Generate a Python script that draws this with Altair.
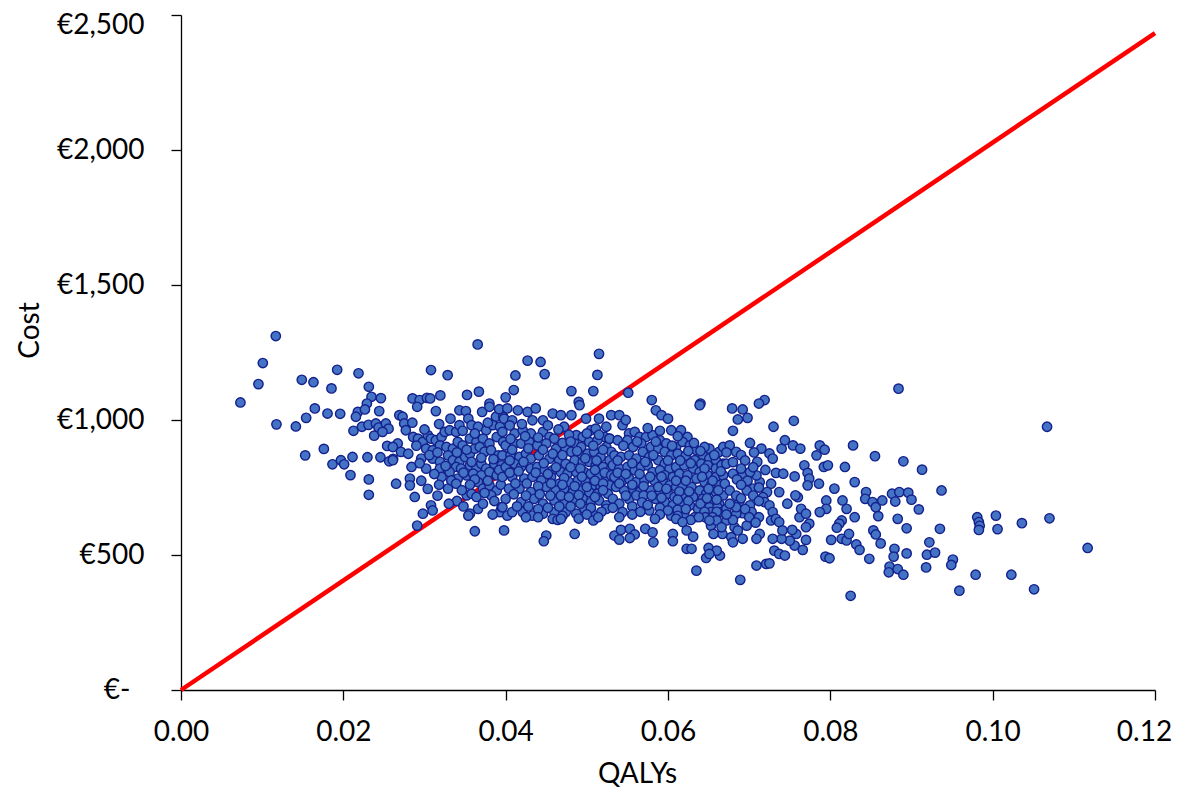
import altair as alt
import pandas as pd

# ---- data (QALYs, Cost) ----
left_group = [
    (0.01168, 1311), (0.01008, 1211), (0.00954, 1133), (0.00732, 1065), (0.01176, 984),
    (0.01415, 976), (0.01542, 1008), (0.01649, 1043), (0.01488, 1149), (0.01632, 1140),
    (0.01924, 1186), (0.01854, 1117), (0.02187, 1173), (0.02314, 1123), (0.02347, 1086),
    (0.02463, 1081), (0.02290, 1061), (0.01805, 1024), (0.01961, 1023), (0.02179, 1030),
    (0.02155, 1012), (0.02266, 1039), (0.02442, 1033), (0.02125, 960), (0.02229, 975),
    (0.02310, 982), (0.02401, 987), (0.02434, 972), (0.02524, 987), (0.02557, 968),
    (0.02380, 942), (0.02482, 956), (0.01530, 869), (0.01760, 893), (0.01866, 836),
    (0.01970, 851), (0.02010, 836), (0.02113, 863), (0.02088, 796), (0.02297, 862),
    (0.02457, 862), (0.02565, 847), (0.02613, 856), (0.02540, 904), (0.02670, 913),
    (0.02314, 780), (0.02314, 723),
]

upper_group = [
    (0.03655, 1280), (0.0308, 1185), (0.03285, 1166), (0.0427, 1220), (0.0443, 1215),
    (0.0412, 1165), (0.0448, 1170), (0.03524, 1093), (0.0367, 1105), (0.03195, 1091),
    (0.0410, 1111), (0.0400, 1084), (0.02853, 1080), (0.0294, 1074), (0.0303, 1082),
    (0.0307, 1080), (0.0380, 1061), (0.0515, 1245), (0.0513, 1167), (0.0481, 1107),
    (0.0508, 1107), (0.0490, 1067), (0.0551, 1101), (0.0580, 1074), (0.0640, 1061),
]

core_a = [
    (0.0269, 1018), (0.0273, 1012), (0.0291, 1049), (0.0314, 1033), (0.0343, 1036),
    (0.0351, 1033), (0.0371, 1030), (0.0380, 1049), (0.0388, 1012), (0.0397, 1012),
    (0.0275, 987), (0.0277, 962), (0.0286, 937), (0.0292, 931), (0.0298, 919),
    (0.0304, 944), (0.0308, 931), (0.0314, 925), (0.0321, 937), (0.0325, 956),
    (0.0331, 962), (0.0339, 956), (0.0343, 981), (0.0354, 1005), (0.0358, 981),
    (0.0366, 975), (0.0376, 962), (0.0384, 981), (0.0393, 975), (0.0261, 900),
    (0.0271, 882), (0.0280, 875), (0.0296, 857), (0.0302, 894), (0.0310, 888),
    (0.0319, 906), (0.0327, 900), (0.0335, 894), (0.0341, 919), (0.0347, 906),
    (0.0356, 931), (0.0364, 919), (0.0372, 931), (0.0380, 913), (0.0389, 937),
    (0.0397, 919), (0.0310, 857), (0.0319, 845), (0.0329, 869), (0.0335, 851),
    (0.0343, 845), (0.0350, 863), (0.0356, 875), (0.0362, 894), (0.0368, 900),
    (0.0374, 882), (0.0382, 888), (0.0391, 869), (0.0397, 869), (0.0261, 851),
    (0.0284, 826), (0.0302, 820), (0.0319, 820), (0.0329, 814), (0.0339, 826),
    (0.0345, 820), (0.0356, 832), (0.0364, 820), (0.0370, 838), (0.0376, 820),
    (0.0386, 838), (0.0395, 832), (0.0265, 764), (0.0282, 783), (0.0282, 758),
    (0.0321, 789), (0.0331, 807), (0.0341, 783), (0.0352, 795), (0.0360, 801),
    (0.0370, 795), (0.0380, 807), (0.0389, 795), (0.0288, 715), (0.0329, 746),
    (0.0333, 776), (0.0339, 764), (0.0352, 721), (0.0358, 727), (0.0366, 770),
    (0.0372, 746), (0.0380, 758), (0.0389, 739), (0.0382, 721), (0.0364, 715),
    (0.0308, 684), (0.0310, 665), (0.0298, 653), (0.0356, 653), (0.0366, 671),
    (0.0393, 659), (0.0395, 677), (0.0354, 646), (0.0362, 588), (0.0398, 591),
    (0.0402, 646), (0.0291, 609),
]

core_a_fill = [
    (0.0285, 990), (0.0300, 965), (0.0318, 985), (0.0332, 1005), (0.0347, 960),
    (0.0362, 950), (0.0378, 990), (0.0392, 1040), (0.0290, 905), (0.0306, 870),
    (0.0316, 880), (0.0340, 880), (0.0352, 890), (0.0370, 860), (0.0385, 855),
    (0.0358, 845), (0.0294, 840), (0.0312, 800), (0.0326, 830), (0.0348, 805),
    (0.0362, 780), (0.0378, 775), (0.0392, 815), (0.0296, 775), (0.0304, 745),
    (0.0318, 760), (0.0346, 740), (0.0356, 760), (0.0374, 730), (0.0386, 700),
    (0.0394, 760), (0.0316, 720), (0.0340, 700), (0.0348, 680), (0.0372, 690),
    (0.0384, 650), (0.0330, 690),
]

core_b = [
    (0.0402, 1043), (0.0415, 1036), (0.0427, 1030), (0.0437, 1043), (0.0458, 1024),
    (0.0468, 1018), (0.0481, 1018), (0.0491, 1055), (0.0499, 1005), (0.0515, 1005),
    (0.0524, 975), (0.0530, 1018), (0.0398, 1005), (0.0408, 999), (0.0433, 999),
    (0.0446, 999), (0.0472, 975), (0.0487, 944), (0.0495, 937), (0.0505, 962),
    (0.0511, 968), (0.0522, 937), (0.0528, 931), (0.0396, 956), (0.0411, 950),
    (0.0421, 962), (0.0431, 950), (0.0446, 956), (0.0454, 937), (0.0460, 931),
    (0.0485, 913), (0.0493, 900), (0.0503, 919), (0.0513, 925), (0.0524, 900),
    (0.0530, 882), (0.0400, 906), (0.0411, 913), (0.0419, 913), (0.0429, 919),
    (0.0439, 906), (0.0450, 913), (0.0462, 894), (0.0474, 894), (0.0481, 882),
    (0.0491, 869), (0.0501, 875), (0.0509, 882), (0.0517, 863), (0.0528, 851),
    (0.0396, 869), (0.0406, 869), (0.0417, 863), (0.0425, 875), (0.0431, 857),
    (0.0441, 869), (0.0454, 857), (0.0466, 851), (0.0474, 838), (0.0485, 851),
    (0.0495, 845), (0.0503, 845), (0.0511, 832), (0.0520, 826), (0.0530, 820),
    (0.0400, 826), (0.0411, 838), (0.0419, 826), (0.0431, 820), (0.0439, 826),
    (0.0448, 814), (0.0458, 814), (0.0468, 807), (0.0476, 801), (0.0487, 807),
    (0.0497, 807), (0.0505, 801), (0.0515, 795), (0.0524, 783), (0.0396, 789),
    (0.0408, 789), (0.0423, 783), (0.0433, 789), (0.0444, 776), (0.0456, 789),
    (0.0466, 764), (0.0478, 770), (0.0489, 776), (0.0499, 770), (0.0507, 758),
    (0.0517, 752), (0.0528, 758), (0.0404, 746), (0.0417, 746), (0.0431, 733),
    (0.0450, 752), (0.0462, 739), (0.0472, 746), (0.0483, 733), (0.0493, 739),
    (0.0503, 733), (0.0513, 727), (0.0526, 727), (0.0400, 708), (0.0419, 696),
    (0.0435, 708), (0.0446, 690), (0.0460, 702), (0.0472, 690), (0.0485, 702),
    (0.0495, 708), (0.0505, 696), (0.0515, 702), (0.0524, 684), (0.0396, 677),
    (0.0408, 659), (0.0421, 659), (0.0433, 646), (0.0446, 653), (0.0460, 659),
    (0.0474, 659), (0.0487, 653), (0.0497, 671), (0.0511, 646), (0.0524, 671),
    (0.0458, 634), (0.0464, 630), (0.0450, 572), (0.0447, 551),
]

core_b_fill = [
    (0.0405, 980), (0.0420, 985), (0.0452, 980), (0.0465, 965), (0.0478, 945),
    (0.0500, 950), (0.0515, 945), (0.0406, 930), (0.0424, 940), (0.0440, 935),
    (0.0470, 915), (0.0480, 920), (0.0508, 905), (0.0520, 890), (0.0408, 890),
    (0.0428, 895), (0.0446, 890), (0.0458, 875), (0.0470, 870), (0.0488, 885),
    (0.0498, 858), (0.0512, 850), (0.0405, 850), (0.0422, 845), (0.0447, 840),
    (0.0462, 825), (0.0480, 825), (0.0492, 820), (0.0510, 815), (0.0522, 805),
    (0.0405, 805), (0.0416, 810), (0.0437, 805), (0.0452, 800), (0.0472, 785),
    (0.0494, 790), (0.0510, 775), (0.0530, 795), (0.0412, 765), (0.0426, 765),
    (0.0440, 755), (0.0456, 765), (0.0470, 760), (0.0485, 755), (0.0500, 752),
    (0.0520, 765), (0.0410, 725), (0.0425, 720), (0.0442, 725), (0.0455, 720),
    (0.0468, 720), (0.0478, 715), (0.0490, 722), (0.0510, 715), (0.0520, 740),
    (0.0414, 680), (0.0428, 680), (0.0440, 670), (0.0452, 675), (0.0466, 680),
    (0.0480, 680), (0.0492, 690), (0.0505, 675), (0.0518, 660), (0.0425, 640),
    (0.0440, 640), (0.0470, 645), (0.0490, 635), (0.0500, 650),
]

core_c = [
    (0.0540, 1018), (0.0544, 981), (0.0585, 1036), (0.0592, 1018), (0.0600, 1005),
    (0.0604, 962), (0.0616, 962), (0.0624, 937), (0.0639, 1055), (0.0651, 894),
    (0.0663, 882), (0.0552, 950), (0.0559, 956), (0.0565, 937), (0.0573, 937),
    (0.0581, 944), (0.0590, 925), (0.0598, 913), (0.0610, 900), (0.0618, 919),
    (0.0627, 906), (0.0635, 888), (0.0643, 869), (0.0651, 857), (0.0659, 851),
    (0.0668, 838), (0.0528, 931), (0.0538, 925), (0.0550, 925), (0.0557, 900),
    (0.0567, 913), (0.0579, 900), (0.0588, 894), (0.0596, 882), (0.0604, 869),
    (0.0612, 875), (0.0622, 869), (0.0633, 851), (0.0641, 838), (0.0649, 832),
    (0.0659, 820), (0.0666, 832), (0.0534, 869), (0.0542, 863), (0.0552, 869),
    (0.0561, 857), (0.0569, 882), (0.0577, 863), (0.0588, 851), (0.0596, 838),
    (0.0602, 820), (0.0610, 826), (0.0620, 832), (0.0631, 820), (0.0639, 807),
    (0.0649, 795), (0.0659, 789), (0.0668, 795), (0.0532, 832), (0.0540, 820),
    (0.0550, 826), (0.0559, 814), (0.0567, 826), (0.0575, 832), (0.0581, 807),
    (0.0590, 814), (0.0596, 795), (0.0606, 789), (0.0614, 801), (0.0624, 795),
    (0.0635, 783), (0.0645, 770), (0.0653, 758), (0.0663, 758), (0.0534, 789),
    (0.0544, 776), (0.0552, 783), (0.0561, 770), (0.0571, 776), (0.0583, 776),
    (0.0594, 770), (0.0602, 758), (0.0610, 752), (0.0618, 758), (0.0629, 752),
    (0.0639, 739), (0.0647, 727), (0.0659, 733), (0.0668, 721), (0.0536, 752),
    (0.0546, 739), (0.0557, 746), (0.0565, 733), (0.0579, 739), (0.0590, 733),
    (0.0600, 727), (0.0608, 715), (0.0620, 721), (0.0631, 715), (0.0643, 708),
    (0.0653, 696), (0.0663, 690), (0.0532, 708), (0.0540, 690), (0.0552, 708),
    (0.0561, 721), (0.0585, 708), (0.0596, 696), (0.0606, 684), (0.0616, 690),
    (0.0627, 684), (0.0637, 671), (0.0651, 677), (0.0661, 677), (0.0544, 659),
    (0.0577, 665), (0.0604, 646), (0.0620, 653), (0.0633, 640), (0.0653, 659),
    (0.0666, 659),
]

core_c_fill = [
    (0.0548, 1000), (0.0575, 970), (0.0590, 960), (0.0612, 940), (0.0632, 915),
    (0.0645, 900), (0.0545, 905), (0.0562, 920), (0.0585, 920), (0.0605, 905),
    (0.0625, 885), (0.0640, 885), (0.0657, 870), (0.0538, 850), (0.0556, 840),
    (0.0572, 845), (0.0582, 870), (0.0600, 850), (0.0615, 850), (0.0628, 840),
    (0.0645, 820), (0.0665, 810), (0.0538, 805), (0.0548, 800), (0.0565, 800),
    (0.0578, 790), (0.0592, 790), (0.0610, 775), (0.0622, 775), (0.0642, 790),
    (0.0655, 775), (0.0540, 765), (0.0556, 760), (0.0570, 755), (0.0588, 752),
    (0.0598, 745), (0.0614, 735), (0.0626, 735), (0.0650, 745), (0.0662, 740),
    (0.0548, 720), (0.0570, 720), (0.0580, 720), (0.0592, 712), (0.0612, 705),
    (0.0625, 700), (0.0640, 690), (0.0648, 710), (0.0660, 705), (0.0532, 675),
    (0.0556, 680), (0.0568, 695), (0.0575, 685), (0.0590, 675), (0.0600, 665),
    (0.0612, 668), (0.0622, 670), (0.0645, 660), (0.0660, 660), (0.0540, 640),
    (0.0556, 650), (0.0566, 660), (0.0590, 650), (0.0612, 645), (0.0628, 630),
    (0.0646, 640), (0.0655, 640),
]

lower_group = [
    (0.0485, 578), (0.0534, 572), (0.0542, 593), (0.0540, 557), (0.0553, 597),
    (0.0559, 576), (0.0553, 563), (0.0572, 597), (0.0581, 584), (0.0582, 547),
    (0.0606, 578), (0.0606, 551), (0.0623, 523), (0.0629, 523), (0.0647, 489),
    (0.0650, 526), (0.0635, 442), (0.0508, 628), (0.0514, 640), (0.0468, 634),
    (0.0584, 634), (0.0610, 634), (0.0618, 622), (0.0623, 591), (0.0631, 568),
    (0.0638, 640), (0.0653, 609),
]

right_group = [
    (0.0719, 1074), (0.0712, 1061), (0.0679, 1043), (0.0692, 1039), (0.0698, 1008),
    (0.0686, 1002), (0.0680, 960), (0.0730, 975), (0.0755, 997), (0.0701, 915),
    (0.0715, 894), (0.0725, 876), (0.0729, 857), (0.0740, 894), (0.0744, 925),
    (0.0754, 906), (0.0763, 894), (0.0787, 906), (0.0793, 890), (0.0783, 869),
    (0.0792, 826), (0.0797, 832), (0.0828, 906), (0.0855, 866), (0.0818, 826),
    (0.0830, 770), (0.0805, 746), (0.0768, 832), (0.0772, 804), (0.0774, 783),
    (0.0772, 758), (0.0786, 764), (0.0756, 791), (0.0733, 804), (0.0742, 801),
    (0.0844, 733), (0.0843, 708), (0.0852, 696), (0.0856, 677), (0.0830, 640),
    (0.0820, 671), (0.0815, 702), (0.0795, 702), (0.0795, 671), (0.0787, 659),
    (0.0814, 628), (0.0811, 616), (0.0808, 601), (0.0801, 556), (0.0814, 560),
    (0.0820, 554), (0.0823, 578), (0.0832, 539), (0.0836, 519), (0.0848, 486),
    (0.0794, 494), (0.0799, 488), (0.0825, 349), (0.0689, 408), (0.0709, 461),
    (0.0721, 467), (0.0725, 469), (0.0731, 516), (0.0737, 504), (0.0744, 498),
    (0.0756, 535), (0.0766, 519), (0.0770, 556), (0.0758, 578), (0.0753, 593),
    (0.0750, 553), (0.0740, 560), (0.0729, 560), (0.0713, 578), (0.0709, 560),
    (0.0762, 640), (0.0764, 671), (0.0770, 653), (0.0774, 616), (0.0770, 603),
    (0.0747, 690), (0.0760, 714), (0.0757, 721), (0.0737, 733), (0.0727, 764),
    (0.0722, 733), (0.0717, 714), (0.0719, 696), (0.0725, 684), (0.0729, 659),
    (0.0727, 628), (0.0733, 634), (0.0737, 622), (0.0741, 591), (0.0705, 746),
    (0.0713, 770), (0.0709, 795), (0.0692, 801), (0.0701, 807), (0.0697, 739),
    (0.0688, 696), (0.0701, 684), (0.0692, 655), (0.0684, 653), (0.0682, 603),
    (0.0672, 628), (0.0667, 578), (0.0678, 566), (0.0686, 591), (0.0697, 609),
    (0.0703, 659), (0.0692, 560), (0.0680, 547), (0.0664, 498), (0.0660, 516),
    (0.0651, 504), (0.0668, 900), (0.0676, 906), (0.0684, 882), (0.0672, 838),
    (0.0680, 844), (0.0670, 764), (0.0680, 801), (0.0676, 739), (0.0672, 671),
    (0.0684, 677), (0.0660, 628), (0.0651, 628), (0.0666, 603), (0.0656, 578),
]

right_fill = [
    (0.0672, 880), (0.0690, 870), (0.0706, 880), (0.0695, 850), (0.0710, 845),
    (0.0690, 820), (0.0705, 825), (0.0720, 815), (0.0685, 780), (0.0698, 775),
    (0.0712, 750), (0.0690, 760), (0.0684, 720), (0.0705, 720), (0.0712, 700),
    (0.0690, 710), (0.0676, 690), (0.0695, 670), (0.0712, 640), (0.0680, 630),
    (0.0700, 640), (0.0708, 620), (0.0672, 650),
]

tail_group = [
    (0.0884, 1116), (0.1067, 975), (0.0890, 847), (0.0913, 816), (0.0937, 739),
    (0.0876, 727), (0.0885, 733), (0.0896, 731), (0.0900, 705), (0.0880, 698),
    (0.0864, 702), (0.0859, 644), (0.0883, 634), (0.0894, 599), (0.0909, 669),
    (0.0935, 597), (0.0853, 591), (0.0856, 576), (0.0862, 543), (0.0879, 523),
    (0.0878, 494), (0.0894, 506), (0.0873, 457), (0.0872, 436), (0.0883, 448),
    (0.0890, 427), (0.0922, 547), (0.0919, 501), (0.0929, 509), (0.0918, 454),
    (0.0951, 483), (0.0949, 463), (0.0959, 368), (0.0979, 427), (0.0981, 640),
    (0.0983, 622), (0.0984, 608), (0.0983, 593), (0.1004, 646), (0.1006, 596),
    (0.1023, 427), (0.1036, 618), (0.1070, 636), (0.1051, 373), (0.1117, 526),
]

threshold_qalys = [0.0, 0.12]
threshold_cost = [0.0, 2433.0]

x_ticks = [0.0, 0.02, 0.04, 0.06, 0.08, 0.10, 0.12]
y_ticks = [0, 500, 1000, 1500, 2000, 2500]

# ---- build tables ----
all_points = (left_group + upper_group + core_a + core_a_fill + core_b
              + core_b_fill + core_c + core_c_fill + lower_group
              + right_group + right_fill + tail_group)
pts = pd.DataFrame(all_points, columns=["qalys", "cost"])
line_df = pd.DataFrame({"qalys": threshold_qalys, "cost": threshold_cost})

FONT = "Lato"
LABEL_SIZE = 28

x_enc = alt.X(
    "qalys:Q",
    scale=alt.Scale(domain=[0, 0.12], nice=False, zero=True),
    axis=alt.Axis(
        values=x_ticks, format=".2f", title="QALYs", grid=False,
        labelOffset={"condition": {"test": "datum.value > 0.11", "value": -11}, "value": 0},
        domainColor="black", domainWidth=1.3, tickColor="black", tickWidth=1.3,
        tickSize=10, labelPadding=18, labelFont=FONT, labelFontSize=LABEL_SIZE,
        labelColor="black", labelFlush=False,
        titleFont=FONT, titleFontSize=LABEL_SIZE, titleFontWeight="normal",
        titleColor="black", titleX=456, titleY=84, titleBaseline="middle",
        titleAlign="center",
    ),
)
y_enc = alt.Y(
    "cost:Q",
    scale=alt.Scale(domain=[0, 2500], nice=False),
    axis=alt.Axis(
        values=y_ticks, title="Cost", grid=False,
        labelExpr="datum.value == 0 ? '€-' : '€' + format(datum.value, ',')",
        labelOffset={"condition": {"test": "datum.value > 2400", "value": 10}, "value": 0},
        labelPadding={"condition": {"test": "datum.value == 0", "value": 41}, "value": 27},
        domainColor="black", domainWidth=1.3, tickColor="black", tickWidth=1.3,
        tickSize=10, labelFont=FONT, labelFontSize=LABEL_SIZE,
        labelColor="black", labelFlush=False,
        titleFont=FONT, titleFontSize=LABEL_SIZE, titleFontWeight="normal",
        titleColor="black", titleX=-151, titleY=315, titleBaseline="middle",
        titleAlign="center", titleAngle=-90,
    ),
)

line = alt.Chart(line_df).mark_line(color="#FF0000", strokeWidth=4.5).encode(
    x=x_enc, y=y_enc
)

points = alt.Chart(pts).mark_point(
    shape="circle", filled=True, fill="#4472C4", stroke="#14208C",
    strokeWidth=1.4, size=88, opacity=1,
).encode(x="qalys:Q", y="cost:Q")

chart = alt.layer(line, points).properties(
    width=974, height=675,
    autosize=alt.AutoSizeParams(type="none"),
    padding={"left": 173, "top": 7, "right": 19, "bottom": 98},
).configure_view(stroke=None)

chart.save("out.html", embed_options={"renderer": "svg", "actions": False})
